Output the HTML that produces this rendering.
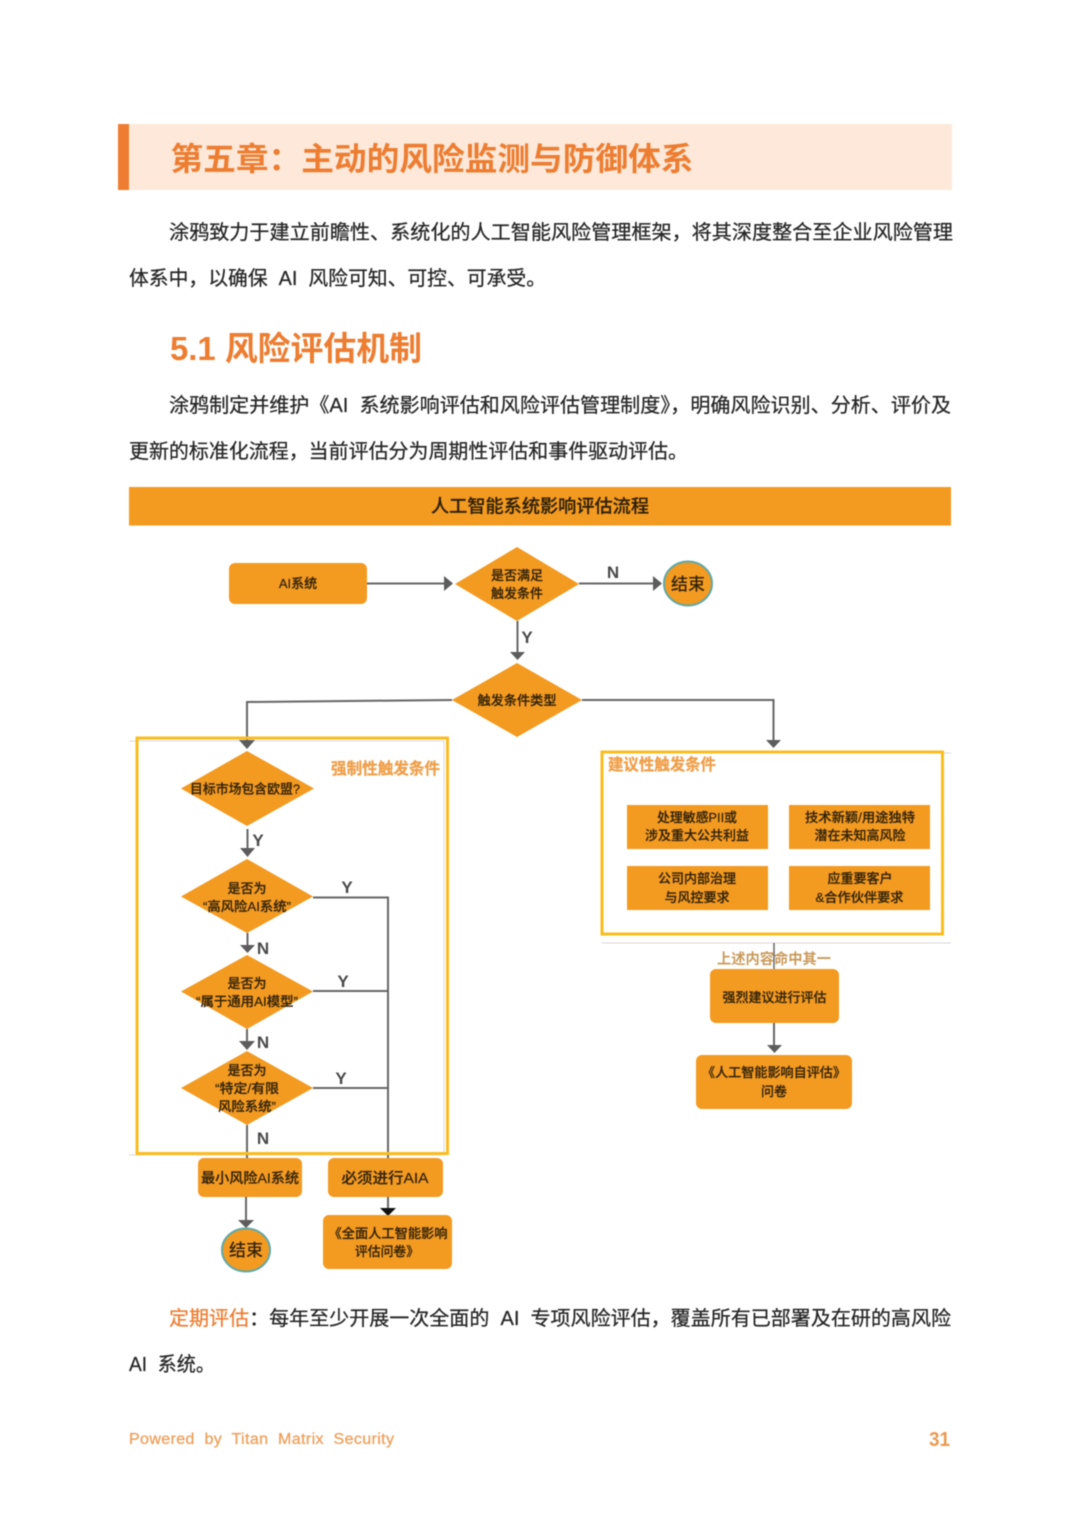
<!DOCTYPE html>
<html lang="zh-CN"><head><meta charset="utf-8"><title>第五章</title>
<style>
html,body{margin:0;padding:0;background:#fff;width:1080px;height:1527px;overflow:hidden}
svg{display:block;filter:blur(.45px)}
text{font-family:"Liberation Sans","Noto Sans CJK SC",sans-serif;white-space:pre}
.p{font-size:20px;fill:#262626;stroke:#262626;stroke-width:.25}
.h{fill:#ed7d31;font-weight:700}
.t{fill:#33230a;font-size:13px;text-anchor:middle;font-weight:500;stroke:#33230a;stroke-width:.2}
.l{fill:#4a4a4a;font-size:17px;font-weight:700;text-anchor:middle;font-family:"Liberation Sans",sans-serif}
.o{fill:#f39a21}
.w{fill:none;stroke:#666;stroke-width:2}
.a{fill:#5c5c5c}
.y{fill:none;stroke:#fbbc1e;stroke-width:3}
.g{fill:none;stroke:#d8d8d8;stroke-width:1}
.c{fill:#ef9f4a;font-size:16px;font-weight:700;stroke:#ef9f4a;stroke-width:.3}
</style></head><body>
<svg width="1080" height="1527" viewBox="0 0 1080 1527" xmlns="http://www.w3.org/2000/svg">
<rect width="1080" height="1527" fill="#fff"/>
<rect x="129" y="124" width="823" height="66" fill="#fde8d9"/>
<rect x="118" y="124" width="11" height="66" fill="#ee7d31"/>
<text class="h" x="170.500" y="170" font-size="32" textLength="523" lengthAdjust="spacingAndGlyphs">第五章&#xFF1A;主动的风险监测与防御体系</text>
<text class="p" x="169" y="239" textLength="784" lengthAdjust="spacingAndGlyphs">涂鸦致力于建立前瞻性、系统化的人工智能风险管理框架&#xFF0C;将其深度整合至企业风险管理</text>
<text class="p" x="129" y="285" textLength="417" lengthAdjust="spacingAndGlyphs">体系中&#xFF0C;以确保  AI  风险可知、可控、可承受。</text>
<text class="h" x="170" y="360" font-size="33" textLength="252" lengthAdjust="spacingAndGlyphs">5.1 风险评估机制</text>
<text class="p" x="169" y="412" textLength="782" lengthAdjust="spacingAndGlyphs">涂鸦制定并维护《AI  系统影响评估和风险评估管理制度》&#xFF0C;明确风险识别、分析、评价及</text>
<text class="p" x="129" y="458" textLength="559" lengthAdjust="spacingAndGlyphs">更新的标准化流程&#xFF0C;当前评估分为周期性评估和事件驱动评估。</text>
<rect class="o" x="129" y="487" width="822" height="38.5"/>
<text x="540" y="512.5" font-size="18" text-anchor="middle" fill="#2e2008" stroke="#2e2008" stroke-width=".2" font-weight="500" textLength="218" lengthAdjust="spacingAndGlyphs">人工智能系统影响评估流程</text>

<!-- faint lines -->
<path class="g" d="M129 741H444V1155H129M602 753H951M602 943H951"/>

<!-- connectors -->
<path class="w" d="M367 583.5H446M579 583.5H655M517.5 621V653M452 700L247 702V741M582 700H773.5V741M247.5 829V849M247.5 933V945M247 1029V1041M247 1125V1158M313 897.500H388V1208M313 991H388M313 1088H388M246 1197V1220M774 1023V1045"/>
<g class="a">
<path d="M444 576L453 583.500 444 591Z"/>
<path d="M653 576L662 583.500 653 591Z"/>
<path d="M510 652H525L517.500 660Z"/>
<path d="M239 740H255L247 749Z"/>
<path d="M766 740H781L773.500 748Z"/>
<path d="M240 848H255L247.500 857Z"/>
<path d="M240 945H255L247.500 953Z"/>
<path d="M239 1041H255L247 1050Z"/>
<path d="M238 1220H254L246 1228Z"/>
<path d="M767 1045H782L774.500 1053Z"/>
</g>
<path d="M380 1208H396L388 1216Z" fill="#111"/>

<!-- yellow frames -->
<rect class="y" x="137" y="738" width="310.500" height="415.500"/>
<rect class="y" x="602" y="752" width="340.500" height="182"/>

<!-- nodes -->
<g class="o">
<rect x="229" y="563" width="138" height="41" rx="6"/>
<path d="M517 547L579 584 517 621 455 584Z"/>
<path d="M517 663L582 700 517 737 452 700Z"/>
<path d="M247 751L314 788.500 247 826 181 788.500Z"/>
<path d="M247 859L313 896.500 247 933 181 896.500Z"/>
<path d="M247 955L313 991.500 247 1029 181 991.500Z"/>
<path d="M247 1051L313 1088 247 1125 181 1088Z"/>
<rect x="627" y="805" width="141" height="44"/>
<rect x="789" y="805" width="141" height="44"/>
<rect x="627" y="866" width="141" height="44"/>
<rect x="789" y="866" width="141" height="44"/>
<rect x="710" y="969" width="129" height="54" rx="6"/>
<rect x="696" y="1055" width="156" height="54" rx="6"/>
<rect x="198" y="1158" width="104" height="39" rx="6"/>
<rect x="328" y="1158" width="115" height="39" rx="6"/>
<rect x="323" y="1215" width="129" height="54" rx="6"/>
</g>
<ellipse cx="688" cy="583.500" rx="24" ry="22" fill="#f39a21" stroke="#5fa8a8" stroke-width="2"/>
<ellipse cx="246" cy="1250" rx="24" ry="21.500" fill="#f39a21" stroke="#5fa8a8" stroke-width="2"/>

<!-- node text -->
<text class="t" x="298" y="588">AI系统</text>
<text class="t" x="517" y="580">是否满足</text>
<text class="t" x="517" y="598">触发条件</text>
<text class="t" x="517" y="705" textLength="79" lengthAdjust="spacingAndGlyphs">触发条件类型</text>
<text x="688" y="590" font-size="17" text-anchor="middle" fill="#33230a" font-weight="500">结束</text>
<text x="246" y="1256" font-size="17" text-anchor="middle" fill="#33230a" font-weight="500">结束</text>
<text class="t" x="245" y="793.500" textLength="110" lengthAdjust="spacingAndGlyphs">目标市场包含欧盟?</text>
<text class="t" x="247" y="893">是否为</text>
<text class="t" x="247" y="911" textLength="88" lengthAdjust="spacingAndGlyphs">“高风险AI系统”</text>
<text class="t" x="247" y="988">是否为</text>
<text class="t" x="247" y="1006" textLength="102" lengthAdjust="spacingAndGlyphs">“属于通用AI模型”</text>
<text class="t" x="247" y="1075">是否为</text>
<text class="t" x="247" y="1093" textLength="64" lengthAdjust="spacingAndGlyphs">“特定/有限</text>
<text class="t" x="247" y="1111" textLength="58" lengthAdjust="spacingAndGlyphs">风险系统”</text>
<text class="t" x="250" y="1183" style="font-size:14px" textLength="98" lengthAdjust="spacingAndGlyphs">最小风险AI系统</text>
<text class="t" x="385" y="1183" style="font-size:15px" textLength="87" lengthAdjust="spacingAndGlyphs">必须进行AIA</text>
<text class="t" x="388" y="1238" textLength="119" lengthAdjust="spacingAndGlyphs">《全面人工智能影响</text>
<text class="t" x="387" y="1256" textLength="64" lengthAdjust="spacingAndGlyphs">评估问卷》</text>
<text class="t" x="697" y="822" textLength="80" lengthAdjust="spacingAndGlyphs">处理敏感PII或</text>
<text class="t" x="697" y="840" textLength="104" lengthAdjust="spacingAndGlyphs">涉及重大公共利益</text>
<text class="t" x="860" y="822" textLength="110" lengthAdjust="spacingAndGlyphs">技术新颖/用途独特</text>
<text class="t" x="860" y="840" textLength="91" lengthAdjust="spacingAndGlyphs">潜在未知高风险</text>
<text class="t" x="697" y="883" textLength="78" lengthAdjust="spacingAndGlyphs">公司内部治理</text>
<text class="t" x="697" y="902" textLength="65" lengthAdjust="spacingAndGlyphs">与风控要求</text>
<text class="t" x="860" y="883" textLength="65" lengthAdjust="spacingAndGlyphs">应重要客户</text>
<text class="t" x="859.500" y="902" textLength="88" lengthAdjust="spacingAndGlyphs">&amp;合作伙伴要求</text>
<text class="t" x="774.500" y="1002" textLength="104" lengthAdjust="spacingAndGlyphs">强烈建议进行评估</text>
<text class="t" x="774" y="1077" textLength="144" lengthAdjust="spacingAndGlyphs">《人工智能影响自评估》</text>
<text class="t" x="774" y="1096">问卷</text>

<!-- captions -->
<text class="c" x="331" y="774" textLength="109" lengthAdjust="spacingAndGlyphs">强制性触发条件</text>
<text class="c" x="608" y="770" textLength="108" lengthAdjust="spacingAndGlyphs">建议性触发条件</text>
<text x="774" y="964" font-size="14.500" text-anchor="middle" fill="#c99a5b" font-weight="700" textLength="114" lengthAdjust="spacingAndGlyphs">上述内容命中其一</text>
<path d="M774 943V969" stroke="#666" stroke-width="1.500"/>

<!-- connector labels -->
<text class="l" x="613" y="578">N</text>
<text class="l" x="527" y="643">Y</text>
<text class="l" x="258" y="846">Y</text>
<text class="l" x="347" y="893">Y</text>
<text class="l" x="263" y="954">N</text>
<text class="l" x="343" y="987">Y</text>
<text class="l" x="263" y="1048">N</text>
<text class="l" x="341" y="1084">Y</text>
<text class="l" x="263" y="1144">N</text>

<!-- lower text -->
<text class="p" x="169" y="1325" textLength="782" lengthAdjust="spacingAndGlyphs"><tspan fill="#ed7d31" stroke="#ed7d31">定期评估</tspan>&#xFF1A;每年至少开展一次全面的  AI  专项风险评估&#xFF0C;覆盖所有已部署及在研的高风险</text>
<text class="p" x="129" y="1371" textLength="86" lengthAdjust="spacingAndGlyphs">AI  系统。</text>
<text x="129" y="1444" font-size="16" fill="#eea05c" stroke="#eea05c" stroke-width=".3" textLength="265" lengthAdjust="spacing">Powered  by  Titan  Matrix  Security</text>
<text x="929" y="1446" font-size="20" fill="#ea9a52" font-weight="700" textLength="21" lengthAdjust="spacingAndGlyphs">31</text>
</svg>
</body></html>
